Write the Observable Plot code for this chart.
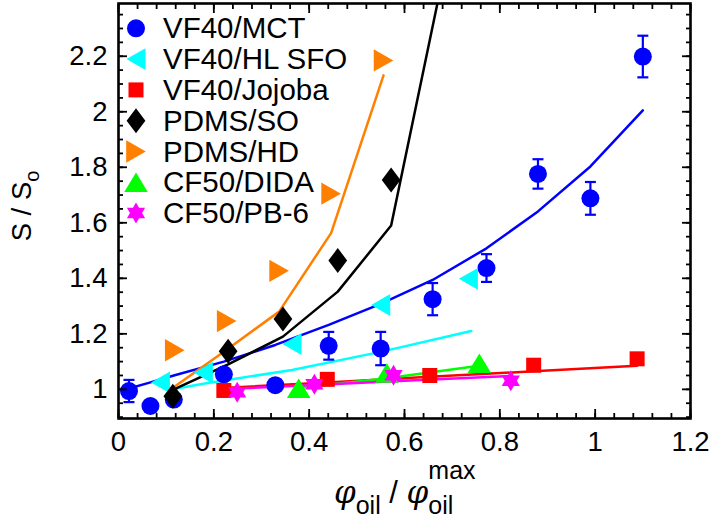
<!DOCTYPE html>
<html><head><meta charset="utf-8">
<script src="https://cdn.jsdelivr.net/npm/d3@7"></script>
<script src="https://cdn.jsdelivr.net/npm/@observablehq/plot@0.6"></script>
<style>
body{margin:0;background:#fff;}
#chart{width:712px;height:522px;}
</style>
</head><body><div id="chart"></div>
<script>
// ---- tick labels ----
const xTicks = [0, 0.2, 0.4, 0.6, 0.8, 1, 1.2];
const yTicks = [1, 1.2, 1.4, 1.6, 1.8, 2, 2.2];

// ---- series names ----
const names = ["VF40/MCT", "VF40/HL SFO", "VF40/Jojoba", "PDMS/SO", "PDMS/HD", "CF50/DIDA", "CF50/PB-6"];

// VF40/MCT (with error bars)
const mctX   = [0.022, 0.067, 0.116, 0.221, 0.329, 0.441, 0.55, 0.659, 0.772, 0.88, 0.99, 1.10];
const mctY   = [0.994, 0.940, 0.963, 1.054, 1.015, 1.157, 1.147, 1.325, 1.437, 1.776, 1.688, 2.199];
const mctErr = [0.04, 0.02, 0.02, 0.02, 0.02, 0.05, 0.06, 0.058, 0.05, 0.053, 0.059, 0.075];
const mctFitY = [1.003, 1.025, 1.05, 1.10, 1.16, 1.232, 1.308, 1.394, 1.508, 1.641, 1.803, 2.005];

// VF40/HL SFO
const sfoX = [0.088, 0.178, 0.364, 0.55, 0.734];
const sfoY = [1.025, 1.06, 1.163, 1.304, 1.398];
const sfoFitX = [0.113, 0.178, 0.364, 0.55, 0.74];
const sfoFitY = [1.0, 1.02, 1.07, 1.135, 1.21];

// VF40/Jojoba
const jojX = [0.221, 0.438, 0.653, 0.871, 1.088];
const jojY = [0.996, 1.036, 1.05, 1.087, 1.11];
const jojErr = [0, 0, 0, 0, 0.015];
const jojFitY = [1.005, 1.025, 1.045, 1.065, 1.085];

// PDMS/SO
const soX = [0.114, 0.230, 0.345, 0.46, 0.572];
const soY = [0.975, 1.137, 1.253, 1.464, 1.754];
const soFitX = [0.114, 0.230, 0.345, 0.46, 0.572, 0.686];
const soFitY = [0.998, 1.09, 1.19, 1.352, 1.59, 2.53];

// PDMS/HD
const hdX = [0.118, 0.227, 0.337, 0.446, 0.556];
const hdY = [1.141, 1.246, 1.427, 1.705, 2.185];
const hdFitY = [1.01, 1.143, 1.28, 1.563, 2.131];

// CF50/DIDA
const didaX = [0.378, 0.563, 0.757];
const didaY = [1.004, 1.059, 1.094];
const didaFitY = [1.005, 1.04, 1.085];

// CF50/PB-6
const pbX = [0.249, 0.411, 0.577, 0.823];
const pbY = [0.99, 1.018, 1.051, 1.031];
const pbFitY = [1.003, 1.016, 1.029, 1.048];

const colors = ["#0000ff", "#00ffff", "#ff0000", "#000000", "#ff8000", "#00ff00", "#ff00ff"];

// ---- custom symbols (r = sqrt(size/PI)) ----
const rOf = s => Math.sqrt(s / Math.PI);
const symLeft = {draw(c, s){const r = rOf(s); c.moveTo(-r, 0); c.lineTo(r, -1.15*r); c.lineTo(r, 1.15*r); c.closePath();}};
const symRight = {draw(c, s){const r = rOf(s); c.moveTo(r, 0); c.lineTo(-r, -1.14*r); c.lineTo(-r, 1.14*r); c.closePath();}};
const symUp = {draw(c, s){const r = rOf(s); c.moveTo(0, -r); c.lineTo(1.2*r, r); c.lineTo(-1.2*r, r); c.closePath();}};
const symSquare = {draw(c, s){const r = rOf(s); c.rect(-r, -r, 2*r, 2*r);}};
const symDiamond = {draw(c, s){const r = rOf(s); c.moveTo(0, -r); c.lineTo(0.75*r, 0); c.lineTo(0, r); c.lineTo(-0.75*r, 0); c.closePath();}};
const symHex = {draw(c, s){const R = rOf(s), ri = R/Math.sqrt(3);
  for (let i = 0; i < 12; i++){const a = -Math.PI/2 + i*Math.PI/6, rr = i%2 ? ri : R;
    const px = rr*Math.cos(a), py = rr*Math.sin(a); if (i) c.lineTo(px, py); else c.moveTo(px, py);} c.closePath();}};
const symCap = {draw(c, s){const r = rOf(s); c.moveTo(-r, 0); c.lineTo(r, 0);}};

const syms = [d3.symbolCircle, symLeft, symSquare, symDiamond, symRight, symUp, symHex];
const symR = [9, 9.5, 7.5, 12.5, 9.8, 9.8, 10.5];

// ---- tables ----
const zip = (xs, ys) => xs.map((x, i) => ({x, y: ys[i]}));
const mct = mctX.map((x, i) => ({x, y: mctY[i], lo: mctY[i] - mctErr[i], hi: mctY[i] + mctErr[i]}));
const joj = jojX.map((x, i) => ({x, y: jojY[i], lo: jojY[i] - jojErr[i], hi: jojY[i] + jojErr[i]})).filter(d => d.hi > d.lo);

const fits = [
  zip(mctX, mctFitY), zip(sfoFitX, sfoFitY), zip(jojX, jojFitY), zip(soFitX, soFitY),
  zip(hdX, hdFitY), zip(didaX, didaFitY), zip(pbX, pbFitY)
];
const pts = [
  zip(mctX, mctY), zip(sfoX, sfoY), zip(jojX, jojY), zip(soX, soY),
  zip(hdX, hdY), zip(didaX, didaY), zip(pbX, pbY)
];

const xMinor = d3.range(0, 31).map(i => +(i*0.04).toFixed(2));
const yMinor = d3.range(18, 48).map(i => +(i*0.05).toFixed(2));
const fmt = d => String(+(+d).toFixed(2));

const FONT = "'Liberation Sans', Arial, Helvetica, sans-serif";
const marks = [];
// fit lines
for (let i = 0; i < 7; i++) marks.push(Plot.line(fits[i], {x: "x", y: "y", stroke: colors[i], strokeWidth: 2.5, clip: true}));
// error bars
for (const [data, col] of [[mct, colors[0]], [joj, colors[2]]]) {
  marks.push(Plot.ruleX(data, {x: "x", y1: "lo", y2: "hi", stroke: col, strokeWidth: 2.2}));
  marks.push(Plot.dot(data, {x: "x", y: "lo", symbol: symCap, r: 5.5, stroke: col, strokeWidth: 2.2, fill: "none"}));
  marks.push(Plot.dot(data, {x: "x", y: "hi", symbol: symCap, r: 5.5, stroke: col, strokeWidth: 2.2, fill: "none"}));
}
// markers
for (let i = 0; i < 7; i++) marks.push(Plot.dot(pts[i], {x: "x", y: "y", symbol: syms[i], r: symR[i], fill: colors[i], stroke: "none"}));

// axes: inward ticks on all four sides (positive length, shifted inside)
const tk = {strokeWidth: 1.8, stroke: "black", text: null, label: null};
const MJ = 9, MN = 5;
marks.push(
  Plot.axisX({anchor: "bottom", ticks: xMinor, tickSize: MN, dy: -MN, ...tk}),
  Plot.axisX({anchor: "bottom", ticks: xTicks, tickSize: MJ, dy: -MJ, ...tk}),
  Plot.axisX({anchor: "top", ticks: xMinor, tickSize: MN, dy: MN, ...tk}),
  Plot.axisX({anchor: "top", ticks: xTicks, tickSize: MJ, dy: MJ, ...tk}),
  Plot.axisY({anchor: "left", ticks: yMinor, tickSize: MN, dx: MN, ...tk}),
  Plot.axisY({anchor: "left", ticks: yTicks, tickSize: MJ, dx: MJ, ...tk}),
  Plot.axisY({anchor: "right", ticks: yMinor, tickSize: MN, dx: -MN, ...tk}),
  Plot.axisY({anchor: "right", ticks: yTicks, tickSize: MJ, dx: -MJ, ...tk}),
  Plot.axisX({anchor: "bottom", ticks: xTicks, tickSize: 0, tickPadding: 13, tickFormat: fmt, label: null, fontSize: 27.5, fill: "black"}),
  Plot.axisY({anchor: "left", ticks: yTicks, tickSize: 0, tickPadding: 11, tickFormat: fmt, label: null, fontSize: 27.5, fill: "black"}),
  Plot.frame({stroke: "black", strokeWidth: 2.6})
);

const svg = Plot.plot({
  width: 712, height: 522,
  marginLeft: 118, marginRight: 22, marginTop: 3, marginBottom: 104,
  x: {domain: [0, 1.2]},
  y: {domain: [0.895, 2.39]},
  style: {fontFamily: FONT, fontSize: "26px", color: "black", background: "white"},
  marks
});
document.getElementById("chart").appendChild(svg);

// ---- legend (inside, top-left) ----
const s = d3.select(svg);
const lg = s.append("g").attr("font-family", FONT).attr("font-size", 29.5).attr("text-anchor", "start");
names.forEach((name, i) => {
  const yy = 28.3 + i * 30.8;
  lg.append("path").attr("transform", `translate(136,${yy})`)
    .attr("d", d3.symbol(syms[i], symR[i] * symR[i] * Math.PI)()).attr("fill", colors[i]);
  lg.append("text").attr("x", 163).attr("y", yy + 10).attr("fill", "black").text(name);
});

// ---- axis titles ----
const yl = s.append("text").attr("transform", "translate(31,206) rotate(-90)")
  .attr("text-anchor", "middle").attr("font-family", FONT).attr("font-size", 27.5).attr("fill", "black");
yl.append("tspan").text("S / S");
yl.append("tspan").attr("font-size", 20).attr("dy", 8).text("o");

const xl = s.append("text").attr("x", 334).attr("y", 503).attr("text-anchor", "start")
  .attr("font-family", FONT).attr("font-size", 31).attr("fill", "black");
xl.append("tspan").attr("font-style", "italic").attr("font-family", "'DejaVu Serif', serif").text("φ");
xl.append("tspan").attr("font-size", 25).attr("dy", 11).text("oil");
xl.append("tspan").attr("dy", -11).text(" / ");
xl.append("tspan").attr("font-style", "italic").attr("font-family", "'DejaVu Serif', serif").text("φ");
xl.append("tspan").attr("font-size", 25).attr("dy", 11).text("oil");
xl.append("tspan").attr("font-size", 25).attr("dx", -25).attr("dy", -35).text("max");
</script>
</body></html>
